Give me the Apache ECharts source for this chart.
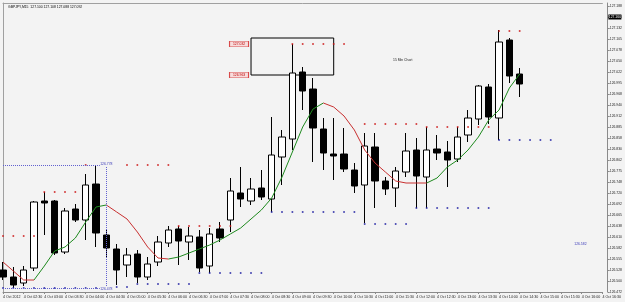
<!DOCTYPE html>
<html>
<head>
<meta charset="utf-8">
<script src="https://cdn.jsdelivr.net/npm/echarts/dist/echarts.min.js"></script>
<style>
html,body{margin:0;padding:0;background:#f3f3f3;}
#chart{width:625px;height:302px;}
</style>
</head>
<body>
<div id="chart"></div>
<script>
// ---------- data ----------
const titleText = "GBPJPY,M15  127.100 127.108 127.088 127.092";
const dateLabel = "4 Oct 2012";
const barTimes = ["4 Oct 02:00","4 Oct 02:15","4 Oct 02:30","4 Oct 02:45","4 Oct 03:00","4 Oct 03:15","4 Oct 03:30","4 Oct 03:45",
"4 Oct 04:00","4 Oct 04:15","4 Oct 04:30","4 Oct 04:45","4 Oct 05:00","4 Oct 05:15","4 Oct 05:30","4 Oct 05:45",
"4 Oct 06:00","4 Oct 06:15","4 Oct 06:30","4 Oct 06:45","4 Oct 07:00","4 Oct 07:15","4 Oct 07:30","4 Oct 07:45",
"4 Oct 08:00","4 Oct 08:15","4 Oct 08:30","4 Oct 08:45","4 Oct 09:00","4 Oct 09:15","4 Oct 09:30","4 Oct 09:45",
"4 Oct 10:00","4 Oct 10:15","4 Oct 10:30","4 Oct 10:45","4 Oct 11:00","4 Oct 11:15","4 Oct 11:30","4 Oct 11:45",
"4 Oct 12:00","4 Oct 12:15","4 Oct 12:30","4 Oct 12:45","4 Oct 13:00","4 Oct 13:15","4 Oct 13:30","4 Oct 13:45",
"4 Oct 14:00","4 Oct 14:15","4 Oct 14:30","4 Oct 14:45","4 Oct 15:00","4 Oct 15:15","4 Oct 15:30","4 Oct 15:45",
"4 Oct 16:00","4 Oct 16:15","4 Oct 16:30"];

const opens  = [126.5275,126.51,126.495,126.5325,126.7,126.7,126.5725,126.68,126.6525,126.7425,
                126.615,126.58,126.54,126.5675,126.51,126.5475,126.595,126.63,126.5975,126.61,
                126.5375,126.63,126.6525,126.72,126.7,126.7325,126.705,126.81,126.855,127.0225,
                126.98,126.88,126.8175,126.8175,126.7775,126.74,126.835,126.75,126.7325,126.7725,
                126.8275,126.76,126.83,126.8225,126.805,126.865,126.905,126.985,126.9075,127.1025,127.0175];
const closes = [126.51,126.49,126.5275,126.6975,126.695,126.57,126.675,126.6525,126.74,126.62,
                126.5825,126.5275,126.565,126.51,126.5425,126.5975,126.6275,126.6,126.6125,126.5325,
                126.6175,126.6075,126.725,126.705,126.73,126.71,126.815,126.86,127.02,126.975,
                126.8825,126.82,126.8125,126.78,126.7375,126.8375,126.75,126.73,126.775,126.825,
                126.7625,126.8275,126.82,126.8025,126.86,126.9075,126.9875,126.91,127.0975,127.0125,126.9925];
const lows   = [126.5025,126.4825,126.4875,126.525,126.615,126.565,126.5675,126.6475,126.6025,126.585,
                126.5575,126.49,126.51,126.495,126.5025,126.5375,126.585,126.54,126.5525,126.5225,
                126.52,126.5975,126.6225,126.685,126.69,126.7025,126.6725,126.74,126.8275,126.9275,
                126.7975,126.7775,126.7525,126.7725,126.72,126.645,126.6825,126.715,126.685,126.76,
                126.6825,126.6825,126.8025,126.735,126.7975,126.8475,126.89,126.8925,126.8525,126.995,126.96];
const highs  = [126.5475,126.535,126.5375,126.7,126.7225,126.7025,126.6825,126.6925,126.7675,126.7875,
                126.6275,126.5925,126.5825,126.5775,126.56,126.6125,126.6375,126.6375,126.635,126.6275,
                126.6325,126.6475,126.7575,126.785,126.7575,126.7775,126.91,126.8775,127.0925,127.035,
                127.0075,126.9075,126.9075,126.8825,126.795,126.87,126.87,126.76,126.785,126.87,
                126.8575,126.885,126.865,126.85,126.885,126.9275,126.99,126.9925,127.1275,127.1075,127.0325];

// moving average
const maValues = [126.5475,126.525,126.5025,126.5025,126.5375,126.575,126.585,126.6075,126.6475,126.685,
                  126.69,126.6725,126.655,126.6225,126.585,126.5575,126.555,126.56,126.57,126.58,
                  126.59,126.6025,126.6175,126.6325,126.655,126.6775,126.7075,126.76,126.8225,126.885,
                  126.93,126.945,126.935,126.9125,126.8775,126.8275,126.795,126.7725,126.75,126.745,
                  126.745,126.745,126.7575,126.785,126.8025,126.8275,126.86,126.9025,126.9275,126.9825,127.0175];

// resistance (red) and support (blue) dots
const resistDots = [126.6125,126.6125,126.6125,126.6125,126.7225,126.7225,126.7225,126.7225,126.79,null,
                    null,null,126.79,126.79,126.79,126.79,126.79,126.6375,126.6375,126.6375,
                    126.6375,126.6375,126.6375,null,null,null,null,null,127.0925,127.0925,
                    127.0925,127.0925,127.0925,127.0925,null,126.8925,126.8925,126.8925,126.8925,126.8925,
                    126.8925,126.885,126.885,126.885,126.885,126.885,126.885,126.885,127.125,127.125,127.125];
const supportDots = [126.4825,126.4825,126.4825,126.4825,126.4825,126.4825,126.4825,126.4825,126.4825,126.4825,
                     126.4825,126.485,126.485,126.4925,126.4925,126.4925,126.4925,126.4925,126.4925,126.52,
                     126.52,126.52,126.52,126.52,126.52,126.52,126.6725,126.6725,126.6725,126.6725,
                     126.6725,126.6725,126.6725,126.6725,126.6725,126.6425,126.6425,126.6425,126.6425,126.6425,
                     126.6825,126.6825,126.6825,126.6825,126.6825,126.6825,126.6825,126.6825,126.8525,126.8525,
                     126.8525,126.8525,126.8525,126.8525];

// annotations
const crossBar = 10, crossTop = 126.79, crossBottom = 126.4825;
const crossLabels = ["126.778", "126.478"];
const rectStartBar = 24, rectEndBar = 32, rectTop = 127.1075, rectBottom = 127.015;
const rectLabelLevels = [127.0925, 127.015];
const rectLabels = ["127.032", "126.963"];
const noteText = "15 Min Chart", noteBar = 38, noteLevel = 127.0525;
const sideText = "126.582", sideBar = 55, sideLevel = 126.5925;
const bidLevel = 127.16;

// axis
const yMin = 126.4725, yMax = 127.195, yStep = 0.0275;

// ---------- build ----------
const candleData = opens.map((o, i) => [o, closes[i], lows[i], highs[i]]);
const maUp = maValues.map(() => null), maDown = maValues.map(() => null);
for (let i = 0; i < maValues.length - 1; i++) {
  if (maValues[i + 1] > maValues[i]) { maUp[i] = maValues[i]; maUp[i + 1] = maValues[i + 1]; }
  else { maDown[i] = maValues[i]; maDown[i + 1] = maValues[i + 1]; }
}
const toScatter = arr => arr.map(v => v === null ? '-' : v);

const FONT = 'Liberation Sans';
const tinyLabel = (text, color, bg, border, w, h, off) => ({
  symbol: 'rect', symbolSize: [w, h], symbolOffset: off,
  itemStyle: { color: bg, borderColor: border, borderWidth: border ? 0.6 : 0 },
  label: { show: true, position: 'inside', formatter: text, color: color, fontSize: 3.4, fontFamily: FONT }
});

const chart = echarts.init(document.getElementById('chart'), null, { renderer: 'canvas' });
chart.setOption({
  animation: false,
  backgroundColor: '#f3f3f3',
  title: { text: titleText, left: 3, top: 1, textStyle: { fontSize: 3.4, fontWeight: 'normal', color: '#000', fontFamily: FONT } },
  grid: { left: 2, right: 18.35, top: 3, bottom: 10 },
  xAxis: [{
    type: 'category', data: barTimes, boundaryGap: false,
    axisLine: { lineStyle: { color: '#8a8a8a', width: 1 } },
    axisTick: { show: true, interval: 1, length: 2, lineStyle: { color: '#8a8a8a' } },
    axisLabel: { interval: 1, fontSize: 3.6, color: '#222', align: 'left', margin: 3, fontFamily: FONT,
      formatter: (v, i) => i === 0 ? dateLabel : v },
    splitLine: { show: false }
  }, {
    type: 'category', data: barTimes, boundaryGap: false, position: 'top',
    axisLine: { lineStyle: { color: '#a0a0a0' } }, axisTick: { show: false }, axisLabel: { show: false }
  }],
  yAxis: [{
    type: 'value', position: 'right', offset: 5.35, min: yMin, max: yMax, interval: yStep,
    axisLine: { show: true, lineStyle: { color: '#8a8a8a' } },
    axisTick: { show: true, length: 2, lineStyle: { color: '#8a8a8a' } },
    axisLabel: { fontSize: 3.4, color: '#222', margin: 2, showMaxLabel: false, fontFamily: FONT,
      formatter: v => v.toFixed(3) },
    splitLine: { show: false }
  }, {
    type: 'value', position: 'left', min: yMin, max: yMax,
    axisLine: { show: true, lineStyle: { color: '#a0a0a0' } }, axisTick: { show: false },
    axisLabel: { show: false }, splitLine: { show: false }
  }],
  series: [
    {
      type: 'candlestick', data: candleData, barWidth: 7, z: 2,
      itemStyle: { color: '#ffffff', color0: '#000000', borderColor: '#000000', borderColor0: '#000000', borderWidth: 1 }
    },
    {
      type: 'line', data: maUp, symbol: 'none', connectNulls: false, z: 3,
      lineStyle: { color: '#1e8a1e', width: 1 }
    },
    {
      type: 'line', data: maDown, symbol: 'none', connectNulls: false, z: 3,
      lineStyle: { color: '#c83030', width: 1 }
    },
    {
      type: 'scatter', data: toScatter(resistDots), symbolSize: 2, z: 4,
      itemStyle: { color: '#cc1111' },
      markArea: {
        silent: true,
        itemStyle: { color: 'rgba(0,0,0,0)', borderColor: '#000', borderWidth: 1 },
        data: [[{ coord: [rectStartBar, rectTop] }, { coord: [rectEndBar, rectBottom] }]]
      },
      markPoint: {
        silent: true,
        data: [
          Object.assign({ coord: [rectStartBar, rectLabelLevels[0]] }, tinyLabel(rectLabels[0], '#c00000', '#f7dcdc', '#d84a4a', 19, 5.5, [-12, 0])),
          Object.assign({ coord: [rectStartBar, rectLabelLevels[1]] }, tinyLabel(rectLabels[1], '#c00000', '#f7dcdc', '#d84a4a', 19, 5.5, [-12, 0])),
          Object.assign({ coord: [noteBar, noteLevel] }, tinyLabel(noteText, '#222', 'rgba(0,0,0,0)', null, 26, 6, [7, 0])),
          Object.assign({ coord: [barTimes.length - 1, bidLevel] }, tinyLabel(bidLevel.toFixed(3), '#ffffff', '#000000', null, 13, 5, [12.5, 0]))
        ]
      }
    },
    {
      type: 'scatter', data: toScatter(supportDots), symbolSize: 2, z: 4,
      itemStyle: { color: '#1a1aa0' },
      markLine: {
        silent: true, symbol: ['none', 'none'], label: { show: false },
        lineStyle: { type: 'dotted', color: '#6060d0', width: 1 },
        data: [
          [{ coord: [0, crossTop] }, { coord: [crossBar, crossTop] }],
          [{ coord: [crossBar, crossTop] }, { coord: [crossBar, crossBottom] }],
          [{ coord: [0, crossBottom] }, { coord: [crossBar, crossBottom] }]
        ]
      },
      markPoint: {
        silent: true,
        data: [
          Object.assign({ coord: [crossBar, crossTop] }, tinyLabel(crossLabels[0], '#3a3ab8', '#f3f3f3', null, 13, 4.5, [0, -1])),
          Object.assign({ coord: [crossBar, crossBottom] }, tinyLabel(crossLabels[1], '#3a3ab8', '#f3f3f3', null, 13, 4.5, [0, 1])),
          Object.assign({ coord: [sideBar, sideLevel] }, tinyLabel(sideText, '#3a3ab8', 'rgba(0,0,0,0)', null, 14, 5, [9, 0]))
        ]
      }
    }
  ]
});
</script>
</body>
</html>
